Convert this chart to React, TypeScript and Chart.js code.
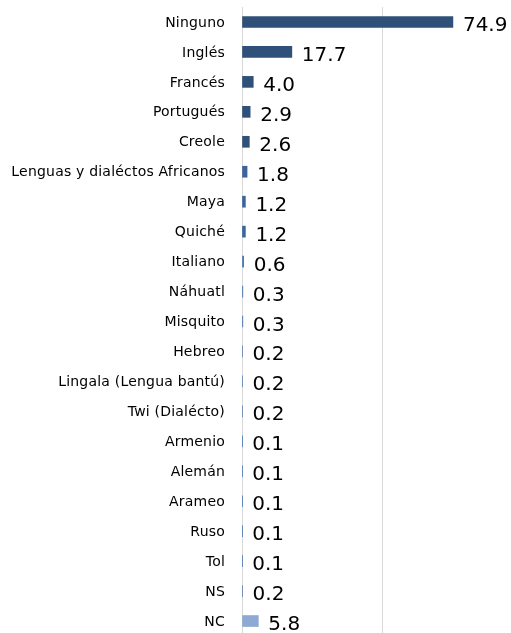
import React, { useEffect, useRef } from "react";
import { Chart, registerables } from "chart.js";

Chart.register(...registerables);

const categories = [
  "Ninguno",
  "Inglés",
  "Francés",
  "Portugués",
  "Creole",
  "Lenguas y dialéctos Africanos",
  "Maya",
  "Quiché",
  "Italiano",
  "Náhuatl",
  "Misquito",
  "Hebreo",
  "Lingala (Lengua bantú)",
  "Twi (Dialécto)",
  "Armenio",
  "Alemán",
  "Arameo",
  "Ruso",
  "Tol",
  "NS",
  "NC",
];

const values = [
  74.9, 17.7, 4.0, 2.9, 2.6, 1.8, 1.2, 1.2, 0.6, 0.3, 0.3, 0.2, 0.2, 0.2, 0.1,
  0.1, 0.1, 0.1, 0.1, 0.2, 5.8,
];

const gridTicks = [0, 50];

const DARK = "#2F5079";
const MID = "#3A649A";
const LIGHT = "#8EA9D3";

const barColors = values.map((v, i) =>
  i === categories.length - 1 ? LIGHT : v < 1 ? "#4A78B2" : v < 2 ? MID : DARK
);

const letterSpacingPlugin = {
  id: "letterSpacing",
  beforeDraw(chart: any) {
    (chart.ctx as any).letterSpacing = "0.2px";
  },
};

const valueLabelPlugin = {
  id: "valueLabels",
  afterDatasetsDraw(chart: any) {
    const ctx = chart.ctx;
    const meta = chart.getDatasetMeta(0);
    ctx.save();
    (ctx as any).letterSpacing = "0px";
    ctx.font = "20px 'DejaVu Sans'";
    ctx.fillStyle = "#000000";
    ctx.textAlign = "left";
    ctx.textBaseline = "alphabetic";
    meta.data.forEach((el: any, i: number) => {
      const v = values[i];
      ctx.fillText(v.toFixed(1), el.x + 10, el.y + 9);
    });
    ctx.restore();
  },
  afterDraw(chart: any) {
    (chart.ctx as any).letterSpacing = "0px";
  },
};

export default function App() {
  const ref = useRef<HTMLCanvasElement | null>(null);

  useEffect(() => {
    if (!ref.current) return;
    const chart = new Chart(ref.current, {
      type: "bar",
      data: {
        labels: categories,
        datasets: [
          {
            data: values,
            backgroundColor: barColors,
            borderWidth: 0,
            barThickness: 11,
          },
        ],
      },
      options: {
        indexAxis: "y",
        responsive: false,
        animation: false,
        layout: { padding: { top: 7, bottom: 4, right: 6, left: 0 } },
        plugins: {
          legend: { display: false },
          tooltip: { enabled: false },
        },
        scales: {
          x: {
            min: 0,
            max: 93.4,
            afterBuildTicks: (scale: any) => {
              scale.ticks = gridTicks.map((v) => ({ value: v }));
            },
            afterFit: (scale: any) => {
              scale.height = 0;
              scale.paddingLeft = 0;
              scale.paddingRight = 0;
            },
            ticks: { display: false },
            border: { display: false },
            grid: {
              drawTicks: false,
              color: (c: any) =>
                c.tick && c.tick.value === 50 ? "#D9D9D9" : "rgba(0,0,0,0)",
              lineWidth: 1,
            },
          },
          y: {
            afterFit: (scale: any) => {
              scale.width = 242;
              scale.paddingTop = 0;
              scale.paddingBottom = 0;
            },
            border: { display: true, color: "#D9D9D9", width: 1 },
            grid: { display: false, drawTicks: false },
            ticks: {
              padding: 17,
              labelOffset: 1,
              color: "#000000",
              font: { family: "'DejaVu Sans'", size: 14 },
              autoSkip: false,
            },
          },
        },
      },
      plugins: [letterSpacingPlugin, valueLabelPlugin],
    });
    return () => chart.destroy();
  }, []);

  return (
    <div
      style={{
        position: "absolute",
        top: 0,
        left: 0,
        width: 511,
        height: 633,
        overflow: "hidden",
        background: "#ffffff",
      }}
    >
      <canvas ref={ref} width={511} height={640} style={{ display: "block" }} />
    </div>
  );
}
